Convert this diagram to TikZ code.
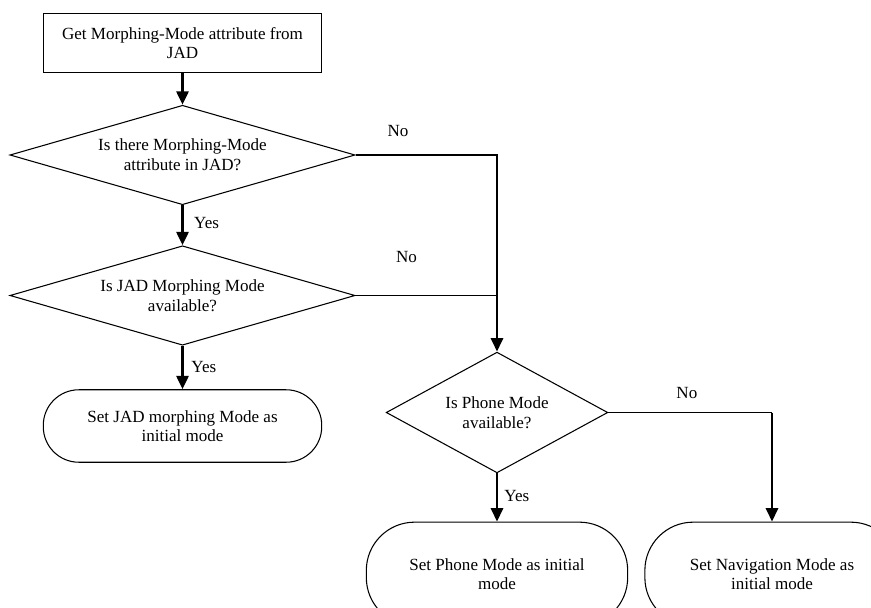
\documentclass[tikz,border=0pt]{standalone}
\usepackage{fontspec}
\setmainfont{Liberation Serif}
\usetikzlibrary{arrows.meta,shapes.geometric}

\begin{document}
\begin{tikzpicture}[x=0.704pt, y=-0.704pt, every node/.style={font=\fontsize{12pt}{13.8pt}\selectfont, align=center},
			blk/.style={draw, line width=.75pt, minimum width=196pt, minimum height=42pt},
			dec/.style={draw, diamond, line width=.75pt, inner sep=0pt},
			trm/.style={draw, line width=.75pt, rounded corners=25pt, minimum width=196pt, minimum height=51pt},
			arr/.style={line width=2pt, -{Triangle[width=8.5pt,length=9.5pt]}},
			ln/.style={line width=.75pt},
			lbl/.style={inner sep=0pt}]
			\useasboundingbox (0,0) rectangle (871,608);
			\node[blk] (get) at (182.5,43) {Get Morphing-Mode attribute from\\JAD};
			\node[dec, minimum width=243pt, minimum height=70pt, aspect=3.45] (has) at (182.5,155) {Is there Morphing-Mode\\attribute in JAD?};
			\node[dec, minimum width=243pt, minimum height=70pt, aspect=3.45] (avail) at (182.5,295.5) {Is JAD Morphing Mode\\available?};
			\node[trm] (setjad) at (182.5,426) {Set JAD morphing Mode as\\initial mode};
			\node[dec, minimum width=156pt, minimum height=85pt, aspect=1.84] (ph) at (497,412.5) {Is Phone Mode\\available?};
			\node[trm, rounded corners=34pt, minimum width=184pt, minimum height=73pt] (setph) at (497,574) {Set Phone Mode as initial\\mode};
			\node[trm, rounded corners=34pt, minimum width=179pt, minimum height=73pt] (setnav) at (772,574) {Set Navigation Mode as\\initial mode};
			% yes branches
			\draw[arr] (get) -- (has);
			\draw[arr] (has) -- node[lbl, pos=.44, xshift=17pt] {Yes} (avail);
			\draw[arr] (avail) -- node[lbl, pos=.49, xshift=15pt] {Yes} (setjad);
			\draw[arr] (ph) -- node[lbl, pos=.47, xshift=14pt] {Yes} (setph);
			% no branches
			\draw[ln] (has.east) -- node[lbl, pos=.3, yshift=17pt] {No} (has.east -| ph.north) -- (avail.east -| ph.north);
			\draw[ln] (avail.east) -- node[lbl, pos=.36, yshift=27pt] {No} (avail.east -| ph.north);
			\draw[arr] (avail.east -| ph.north) -- (ph.north);
			\draw[ln] (ph.east) -- node[lbl, pos=.48, yshift=14pt] {No} (ph.east -| setnav.north);
			\draw[arr] (ph.east -| setnav.north) -- (setnav.north);
		\end{tikzpicture}
\end{document}
